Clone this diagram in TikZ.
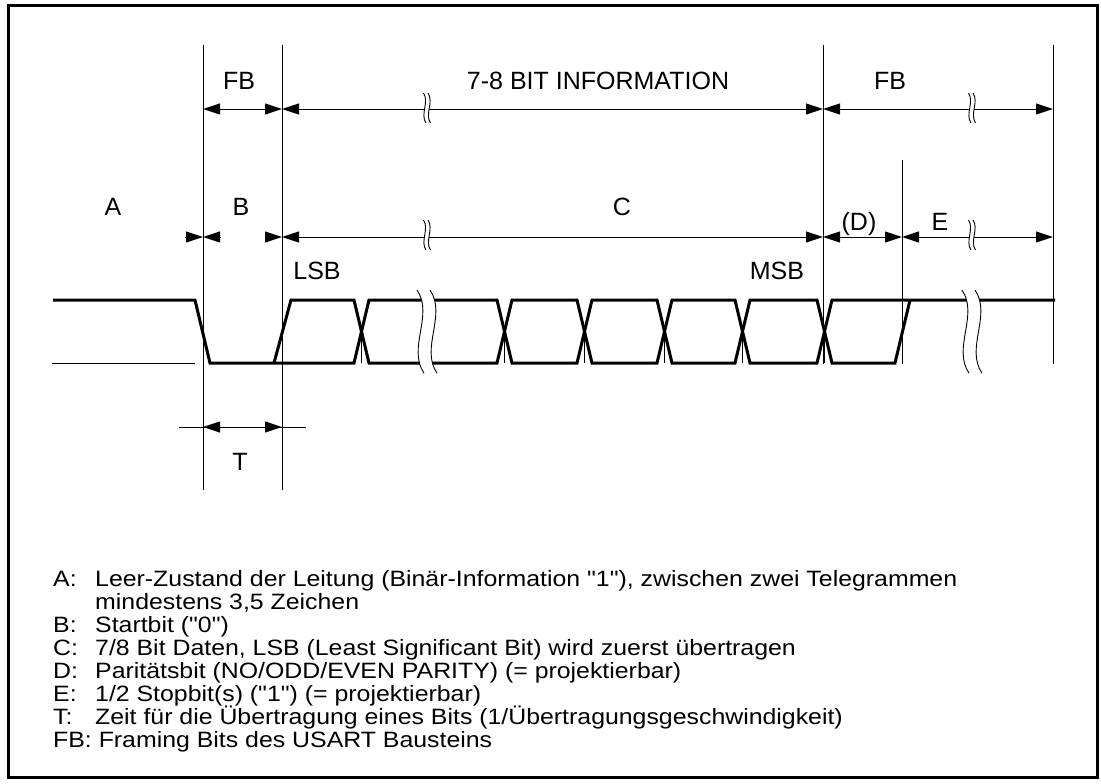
\documentclass[tikz,border=0pt]{standalone}
\usepackage{fontspec}
\setmainfont{Liberation Sans}[Ligatures=TeXOff]
\newfontfamily\legfont{Liberation Sans}[Ligatures=TeXOff, FakeStretch=1.12]
\usepackage{tikz}
\usetikzlibrary{arrows.meta,positioning,calc}
\tikzset{
  usframe/.style={draw=black, line width=3pt},
  sig/.style={draw=black, line width=3pt, line join=miter},
  hair/.style={draw=black, line width=1pt},
  dimarr/.style={
    {Triangle[length=17pt,width=11pt]}-{Triangle[length=17pt,width=11pt]},
    draw=black, line width=1pt
  },
  onetip/.style={-{Triangle[length=17pt,width=11pt]}, draw=black, line width=1pt},
  lbl/.style={anchor=base, inner sep=0pt, font=\fontsize{25}{28}\selectfont},
  legkey/.style={anchor=base west, inner sep=0pt, font=\legfont\fontsize{22.2}{23}\selectfont},
  legtxt/.style={legkey},
}
% double wavy break mark: x, top y, xscale, yscale
\newcommand{\wavecut}[4]{%
  \begin{scope}[shift={(#1,#2)}, xscale=#3, yscale=#4]
    \fill[white] (-10,0) .. controls (7,24) and (-20,56) .. (-3,80)
      -- (10,80) .. controls (-7,56) and (20,24) .. (3,0) -- cycle;
    \draw[line width=0.9pt] (-10,0) .. controls (7,24) and (-20,56) .. (-3,80);
    \draw[line width=0.9pt] (3,0) .. controls (20,24) and (-7,56) .. (10,80);
  \end{scope}}

\begin{document}
\begin{tikzpicture}[x=1pt, y=-1pt]
  \useasboundingbox (0,0) rectangle (1101,784);
  \draw[usframe] (8.5,6) rectangle (1097.5,777);

  % reference lines
  \coordinate (v1) at (203,45);  \coordinate (v1b) at (203,490);
  \coordinate (v2) at (282,45);  \coordinate (v2b) at (282,490);
  \coordinate (v3) at (823,45);  \coordinate (v3b) at (823,364);
  \coordinate (v4) at (902,160); \coordinate (v4b) at (902,364);
  \coordinate (v5) at (1053,45); \coordinate (v5b) at (1053,364);
  \coordinate (r1) at (0,109);
  \coordinate (r2) at (0,237);
  \coordinate (r3) at (0,427);
  \draw[hair] (v1) -- (v1b);
  \draw[hair] (v2) -- (v2b);
  \draw[hair] (v3) -- (v3b);
  \draw[hair] (v4) -- (v4b);
  \draw[hair] (v5) -- (v5b);

  % signal
  \draw[hair] (52,363) -- (195,363);
  \draw[sig] (53,300) -- (195,300) -- (210,363) -- (354,363) -- (369,300)
    -- (497,300) -- (512,363) -- (577,363) -- (592,300) -- (657,300)
    -- (672,363) -- (735,363) -- (750,300) -- (817,300) -- (832,363)
    -- (895,363) -- (910,300);
  \draw[sig] (274,363) -- (291,300) -- (354,300) -- (369,363) -- (497,363)
    -- (512,300) -- (577,300) -- (592,363) -- (657,363) -- (672,300)
    -- (735,300) -- (750,363) -- (817,363) -- (832,300) -- (1055,300);
  \foreach \s in {354,497,577,657,735,817}
    \draw[hair] (\s+7.5,331.5) -- (\s+7.5,363);
  \wavecut{427}{290}{1}{1.04}
  \wavecut{972}{290}{1}{1.04}

  % upper dimensions
  \draw[dimarr] (v1 |- r1) -- (v2 |- r1);
  \draw[dimarr] (v2 |- r1) -- (v3 |- r1);
  \draw[dimarr] (v3 |- r1) -- (v5 |- r1);
  \wavecut{427}{93}{0.35}{0.375}
  \wavecut{972}{93}{0.35}{0.375}
  \node[lbl] (fb1) at (239,89) {FB};
  \node[lbl] (info) at (598,89) {7-8 BIT INFORMATION};
  \node[lbl] (fb2) at (890,89) {FB};

  % lower dimensions
  \coordinate (a0) at (185,237);
  \coordinate (b0) at (220,237);
  \coordinate (b1) at (265,237);
  \draw[onetip] (a0) -- (v1 |- r2);
  \draw[onetip] (b0) -- (v1 |- r2);
  \draw[onetip] (b1) -- (v2 |- r2);
  \draw[dimarr] (v2 |- r2) -- (v3 |- r2);
  \draw[dimarr] (v3 |- r2) -- (v4 |- r2);
  \draw[dimarr] (v4 |- r2) -- (v5 |- r2);
  \wavecut{427}{220}{0.35}{0.375}
  \wavecut{972}{220}{0.35}{0.375}
  \node[lbl] (la) at (113,215) {A};
  \node[lbl] (lb) at (241,215) {B};
  \node[lbl] (lc) at (622,215) {C};
  \node[lbl] (ld) at (859,230) {(D)};
  \node[lbl] (le) at (940,230) {E};
  \node[lbl] (lsb) at (317,279) {LSB};
  \node[lbl] (msb) at (777,279) {MSB};

  % bit time
  \coordinate (t0) at (179,427);
  \coordinate (t1) at (306,427);
  \draw[hair] (t0) -- (t1);
  \draw[dimarr] (v1 |- r3) -- (v2 |- r3);
  \node[lbl] (lt) at (240,470) {T};

  % legend
  \node[legkey] (ka) at (53,586) {A:};
  \node[legtxt] (ta) at (95,586) {Leer-Zustand der Leitung (Binär-Information "1"), zwischen zwei Telegrammen};
  \node[legtxt] (ta2) at (95,609) {mindestens 3,5 Zeichen};
  \node[legkey] (kb) at (53,632) {B:};
  \node[legtxt] (tb) at (95,632) {Startbit ("0")};
  \node[legkey] (kc) at (53,655) {C:};
  \node[legtxt] (tc) at (95,655) {7/8 Bit Daten, LSB (Least Significant Bit) wird zuerst übertragen};
  \node[legkey] (kd) at (53,678) {D:};
  \node[legtxt] (td) at (95,678) {Paritätsbit (NO/ODD/EVEN PARITY) (= projektierbar)};
  \node[legkey] (ke) at (53,701) {E:};
  \node[legtxt] (te) at (95,701) {1/2 Stopbit(s) ("1") (= projektierbar)};
  \node[legkey] (kt) at (53,724) {T:};
  \node[legtxt] (tt) at (95,724) {Zeit für die Übertragung eines Bits (1/Übertragungsgeschwindigkeit)};
  \node[legkey] (kfb) at (53,747) {FB: Framing Bits des USART Bausteins};
\end{tikzpicture}
\end{document}
